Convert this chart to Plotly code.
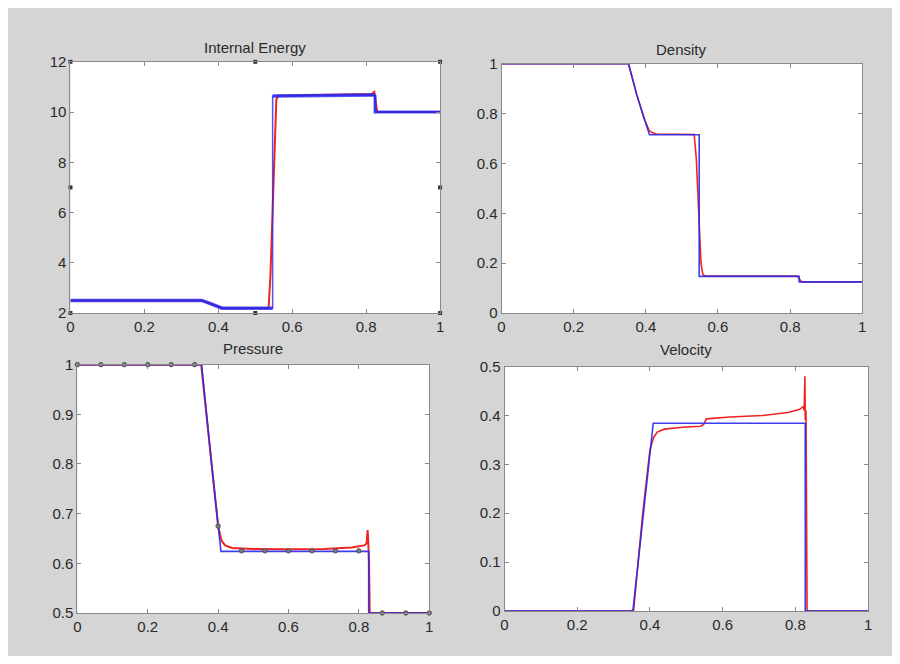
import plotly.graph_objects as go

# ---------------- data ----------------
# Internal energy
e_exact_x = [0, 0.355, 0.37, 0.39, 0.41, 0.547, 0.547, 0.824, 0.824, 1]
e_exact_y = [2.5, 2.5, 2.42, 2.3, 2.19, 2.19, 10.64, 10.68, 10.0, 10.0]
e_num_x = [0, 0.355, 0.37, 0.39, 0.41, 0.42, 0.536, 0.541, 0.548, 0.553, 0.557, 0.562, 0.7, 0.815, 0.822, 0.826, 0.83, 1]
e_num_y = [2.5, 2.5, 2.42, 2.3, 2.2, 2.2, 2.2, 3.5, 6.5, 9.5, 10.5, 10.65, 10.7, 10.72, 10.8, 10.3, 10.0, 10.0]
e_handles_x = [0, 0.5, 1, 0, 1, 0, 0.5, 1]
e_handles_y = [12, 12, 12, 7, 7, 2, 2, 2]

# Density
rho_exact_x = [0, 0.352, 0.375, 0.395, 0.41, 0.548, 0.548, 0.825, 0.825, 1]
rho_exact_y = [1, 1, 0.875, 0.78, 0.715, 0.715, 0.147, 0.147, 0.125, 0.125]
rho_num_x = [0, 0.352, 0.375, 0.395, 0.41, 0.42, 0.43, 0.534, 0.54, 0.547, 0.553, 0.558, 0.565, 0.82, 0.826, 0.832, 1]
rho_num_y = [1, 1, 0.875, 0.78, 0.73, 0.722, 0.718, 0.716, 0.62, 0.40, 0.2, 0.155, 0.148, 0.148, 0.138, 0.125, 0.125]

# Pressure
p_exact_x = [0, 0.353, 0.38, 0.408, 0.828, 0.828, 1]
p_exact_y = [1, 1, 0.81, 0.624, 0.624, 0.5, 0.5]
p_num_x = [0, 0.352, 0.38, 0.40, 0.41, 0.42, 0.44, 0.5, 0.6, 0.7, 0.78, 0.815, 0.822, 0.825, 0.827, 0.829, 0.831, 1]
p_num_y = [1, 1, 0.81, 0.675, 0.645, 0.636, 0.631, 0.629, 0.628, 0.629, 0.632, 0.636, 0.64, 0.667, 0.64, 0.6, 0.5, 0.5]
p_mark_x = [0, 0.0667, 0.1333, 0.2, 0.2667, 0.3333, 0.4, 0.4667, 0.5333, 0.6, 0.6667, 0.7333, 0.8, 0.8667, 0.9333, 1]
p_mark_y = [1, 1, 1, 1, 1, 1, 0.675, 0.625, 0.625, 0.625, 0.625, 0.625, 0.625, 0.5, 0.5, 0.5]

# Velocity
u_exact_x = [0, 0.353, 0.409, 0.827, 0.827, 1]
u_exact_y = [0, 0, 0.384, 0.384, 0, 0]
u_num_x = [0, 0.345, 0.355, 0.38, 0.40, 0.41, 0.42, 0.44, 0.49, 0.54, 0.548, 0.555, 0.62, 0.71, 0.78, 0.81, 0.822, 0.824, 0.826, 0.827, 0.829, 0.832, 1]
u_num_y = [0, 0, 0.002, 0.2, 0.33, 0.355, 0.366, 0.372, 0.376, 0.378, 0.382, 0.393, 0.397, 0.40, 0.406, 0.412, 0.418, 0.41, 0.48, 0.39, 0.41, 0, 0]

titles = ["Internal Energy", "Density", "Pressure", "Velocity"]
x_ticks = [0, 0.2, 0.4, 0.6, 0.8, 1]
x_ticktext = ["0", "0.2", "0.4", "0.6", "0.8", "1"]
y_ticks = [[2, 4, 6, 8, 10, 12], [0, 0.2, 0.4, 0.6, 0.8, 1],
           [0.5, 0.6, 0.7, 0.8, 0.9, 1], [0, 0.1, 0.2, 0.3, 0.4, 0.5]]
y_ticktext = [["2", "4", "6", "8", "10", "12"], ["0", "0.2", "0.4", "0.6", "0.8", "1"],
              ["0.5", "0.6", "0.7", "0.8", "0.9", "1"], ["0", "0.1", "0.2", "0.3", "0.4", "0.5"]]
y_ranges = [[2, 12], [0, 1], [0.5, 1], [0, 0.5]]

# ---------------- layout geometry (screen pixels; page body has 8px margin) ----------------
OFF = 8
W, H = 900 - 2 * OFF, 664 - 2 * OFF
panels_px = [  # x0, x1, ytop, ybottom  (screen coords)
    (67, 440, 54, 312),
    (502, 866, 56, 312),
    (74, 429, 365, 620),
    (505, 872, 367, 618),
]
title_px_y = [39, 41, 348, 349]

BLUE = "#2a2aee"
RED = "#ee2424"
GRAY_BG = "#d5d5d5"
AXIS = "#8a8a8a"
TXT = "#2a2a2a"
FONT = "Liberation Sans, Arial, sans-serif"

fig = go.Figure()

def ax(k):
    return ("x" if k == 0 else f"x{k+1}"), ("y" if k == 0 else f"y{k+1}")

def add(xv, yv, k, color, width, opacity=1.0):
    xa, ya = ax(k)
    fig.add_trace(go.Scatter(
        x=xv, y=yv, mode="lines", line=dict(color=color, width=width),
        opacity=opacity, xaxis=xa, yaxis=ya, showlegend=False, hoverinfo="skip"))

# Internal energy: thin full line, thick plateaus
add(e_num_x, e_num_y, 0, RED, 2.0)
add(e_exact_x, e_exact_y, 0, BLUE, 1.5, 0.8)
add(e_exact_x[:6], e_exact_y[:6], 0, BLUE, 3.5, 0.8)
add(e_exact_x[6:8], e_exact_y[6:8], 0, BLUE, 3.5, 0.8)
add(e_exact_x[7:], e_exact_y[7:], 0, BLUE, 3.0, 0.8)
fig.add_trace(go.Scatter(x=e_handles_x, y=e_handles_y, mode="markers",
                         marker=dict(symbol="square", size=4, color="#333333"),
                         cliponaxis=False, showlegend=False, hoverinfo="skip"))
# Density
add(rho_num_x, rho_num_y, 1, RED, 1.6)
add(rho_exact_x, rho_exact_y, 1, BLUE, 1.6, 0.9)
# Pressure
add(p_num_x, p_num_y, 2, RED, 2.0)
add(p_exact_x, p_exact_y, 2, BLUE, 1.6, 0.9)
fig.add_trace(go.Scatter(x=p_mark_x, y=p_mark_y, mode="markers",
                         marker=dict(symbol="circle", size=4.5, color="#7a7a7a",
                                     line=dict(color="#444444", width=0.8)),
                         cliponaxis=False, xaxis="x3", yaxis="y3",
                         showlegend=False, hoverinfo="skip"))
# Velocity
add(u_num_x, u_num_y, 3, RED, 1.6)
add(u_exact_x, u_exact_y, 3, BLUE, 1.6, 0.9)

layout = dict(
    width=W, height=H,
    margin=dict(l=0, r=0, t=0, b=0),
    paper_bgcolor=GRAY_BG, plot_bgcolor="white",
    font=dict(family=FONT, size=15, color=TXT),
    showlegend=False,
)

annotations = []
for k, (x0, x1, yt, yb) in enumerate(panels_px):
    sfx = "" if k == 0 else str(k + 1)
    xdom = [(x0 - OFF) / W, (x1 - OFF) / W]
    ydom = [1 - (yb - OFF) / H, 1 - (yt - OFF) / H]
    common = dict(showline=True, linecolor=AXIS, linewidth=1, mirror="allticks",
                  ticks="inside", ticklen=4, tickcolor=AXIS, showgrid=False,
                  zeroline=False, tickfont=dict(family=FONT, size=15, color=TXT))
    layout["xaxis" + sfx] = dict(domain=xdom, range=[0, 1], tickvals=x_ticks,
                                 ticktext=x_ticktext, anchor="y" + sfx, **common)
    layout["yaxis" + sfx] = dict(domain=ydom, range=y_ranges[k], tickvals=y_ticks[k],
                                 ticktext=y_ticktext[k], anchor="x" + sfx, **common)
    annotations.append(dict(text=titles[k], x=((x0 + x1) / 2 - OFF) / W,
                            y=1 - (title_px_y[k] - OFF) / H,
                            xref="paper", yref="paper", showarrow=False,
                            xanchor="center", yanchor="middle",
                            font=dict(family=FONT, size=15, color=TXT)))
layout["annotations"] = annotations
fig.update_layout(**layout)
fig.write_html("out.html", config={"displayModeBar": False})
